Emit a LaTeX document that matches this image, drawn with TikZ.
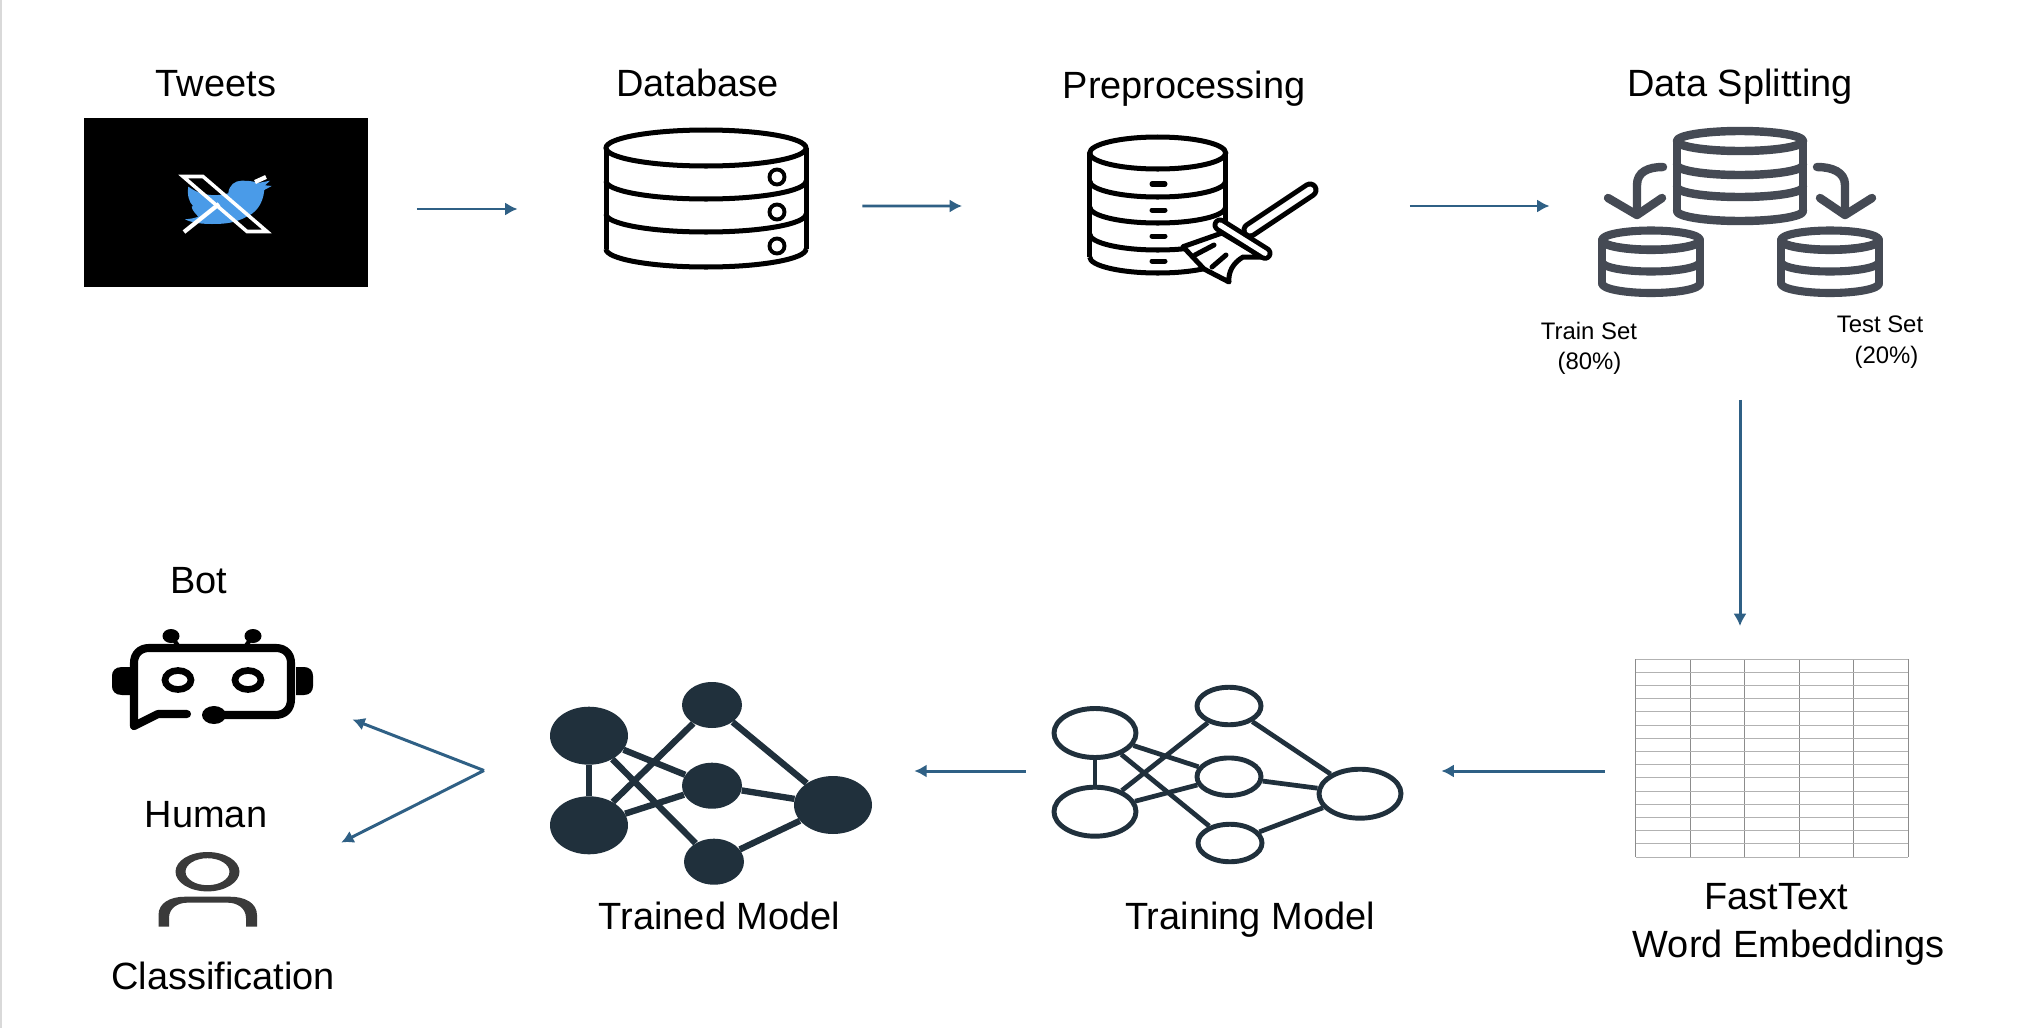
\documentclass[tikz,border=0pt]{standalone}
\usepackage{fontspec}
\setmainfont{Liberation Sans}
\usetikzlibrary{arrows.meta,shapes.geometric}
\definecolor{flowblue}{HTML}{2F6085}
\definecolor{netdark}{HTML}{20303C}
\definecolor{splitgrey}{HTML}{454A54}
\definecolor{birdblue}{HTML}{4A9BE8}
\definecolor{humangrey}{HTML}{3A3A3A}
\tikzset{
  biglabel/.style={anchor=base,font=\fontsize{21.6}{26}\selectfont},
  smalllabel/.style={anchor=base,font=\fontsize{13.6}{16}\selectfont},
  iconbox/.style={inner sep=0pt,outer sep=0pt},
  flow/.style={draw=flowblue,line width=1.7pt,-{Latex[length=7pt,width=7.5pt]}},
  solidnode/.style={ellipse,fill=netdark,inner sep=0pt},
  bignode/.style={minimum width=1.56cm,minimum height=1.16cm},
  smallnode/.style={minimum width=1.2cm,minimum height=.92cm},
  ringnode/.style={ellipse,draw=netdark,fill=white,line width=2.8pt,inner sep=0pt},
  bigring/.style={minimum width=1.64cm,minimum height=.98cm},
  smallring/.style={minimum width=1.28cm,minimum height=.75cm},
  solidedge/.style={draw=netdark,line width=3.6pt},
  ringedge/.style={draw=netdark,line width=2.7pt},
  dbline/.style={line width=2.85pt,black},
  splitline/.style={draw=splitgrey,line cap=round,line join=round}
}
\begin{document}
\begin{tikzpicture}[x=.02cm,y=-.02cm]
  \useasboundingbox (0,0) rectangle (2036,1028);
  \fill [white] (0,0) rectangle (2036,1028);
  \fill [black!15] (0,0) rectangle (2,1028);

  \node (tweetsbox) [iconbox,fill=black,minimum width=5.68cm,minimum height=3.38cm] at (226,202.5) {};
  \node (dbicon) [iconbox,minimum width=4.1cm,minimum height=2.82cm] at (706,199.5) {};
  \node (cleanicon) [iconbox,minimum width=4.64cm,minimum height=3.02cm] at (1203,209.5) {};
  \node (spliticon) [iconbox,minimum width=5.7cm,minimum height=3.4cm] at (1741,212) {};
  \node (gridtable) [iconbox,minimum width=5.45cm,minimum height=3.96cm] at (1772,758) {};
  \node (boticon) [iconbox,minimum width=4.02cm,minimum height=1.98cm] at (212.5,679) {};
  \node (humanicon) [iconbox,minimum width=1.97cm,minimum height=1.5cm] at (208,889) {};

  \node [biglabel] at (216,96) {Tweets};
  \node [biglabel] at (697.5,96) {Database};
  \node [biglabel] at (1184,98) {Preprocessing};
  \node [biglabel] at (1740,96) {Data Splitting};
  \node [smalllabel] at (1589,339) {Train Set};
  \node [smalllabel] at (1589.5,369) {(80\%)};
  \node [smalllabel] at (1880,332) {Test Set};
  \node [smalllabel] at (1886.5,363) {(20\%)};
  \node [biglabel] at (199,593) {Bot};
  \node [biglabel] at (206,827) {Human};
  \node [biglabel] at (223,989) {Classification};
  \node [biglabel] at (719.5,929) {Trained Model};
  \node [biglabel] at (1250,929) {Training Model};
  \node [biglabel] at (1776,909) {FastText};
  \node [biglabel] at (1788.5,957) {Word Embeddings};

  \fill [birdblue] (228.3,193.3) .. controls (229,185) and (235,180.7) .. (241.7,180.7)
    .. controls (248,180.7) and (253,181) .. (258,183) -- (270,180.7) -- (265,185.3) -- (271.7,186) -- (264.3,190)
    .. controls (263,205) and (255,213) .. (246.7,216.7) .. controls (235,223) and (225,224) .. (212,224)
    .. controls (203,224) and (192,223) .. (185,219.3) .. controls (190,219) and (195,218) .. (198.3,216.7)
    .. controls (195,213) and (192,210) .. (191.7,206.7) -- (193,206)
    .. controls (189,202) and (187,195) .. (188.3,186.7) .. controls (197,193) and (210,198) .. cycle;
  \draw [white,line width=2pt,line join=miter] (183,176.5) -- (203,176.5) -- (267,231.5) -- (247,231.5) -- cycle;
  \draw [white,line width=2.4pt] (184,232) -- (219,204);
  \draw [white,line width=2.4pt] (255,182) -- (266,177);

  \draw [dbline] (706,148) ellipse [x radius=100,y radius=18];
  \draw [dbline] (606,148) -- (606,249);
  \draw [dbline] (806,148) -- (806,249);
  \foreach \y in {181,214,249}
    \draw [dbline] (606,\y) arc [start angle=180,end angle=0,x radius=100,y radius=18];
  \foreach \y in {177,212,246}
    \draw [dbline,line width=2.2pt] (777,\y) ellipse [x radius=7.5,y radius=7.5];

  \draw [dbline] (1157.7,153) ellipse [x radius=68,y radius=16];
  \draw [dbline] (1089.7,153) -- (1089.7,257);
  \draw [dbline] (1225.7,153) -- (1225.7,240);
  \foreach \y in {181,207,234,257}
    \draw [dbline] (1089.7,\y) arc [start angle=180,end angle=0,x radius=68,y radius=16];
  \foreach \y in {184,210,236,261}
    \draw [dbline,line cap=round] (1152,\y) -- (1165,\y);
  \draw [black,line width=9.7pt,line cap=round] (1250,230) -- (1310,190);
  \draw [white,line width=4pt,line cap=round] (1250,230) -- (1310,190);
  \draw [dbline,fill=white,line join=round] (1183,246.7) -- (1222,233) -- (1262,257) -- (1243,257)
    .. controls (1233,263) and (1228,272) .. (1229,282) -- (1204,269) -- cycle;
  \draw [dbline,line cap=round] (1195,255) -- (1214,245);
  \draw [dbline,line cap=round] (1212,267) -- (1226,255);
  \draw [black,line width=8.5pt,line cap=round] (1220,225) -- (1265,253.3);
  \draw [white,line width=3pt,line cap=round] (1220,225) -- (1265,253.3);

  \draw [splitline,line width=4.8pt] (1740,141) ellipse [x radius=63,y radius=10];
  \draw [splitline,line width=4.8pt] (1677,141) -- (1677,211);
  \draw [splitline,line width=4.8pt] (1803,141) -- (1803,211);
  \foreach \y in {165,187,211}
    \draw [splitline,line width=4.8pt] (1677,\y) arc [start angle=180,end angle=0,x radius=63,y radius=10];
  \foreach \c in {1651,1830} {
    \draw [splitline,line width=4.6pt] (\c,240) ellipse [x radius=49,y radius=9.5];
    \draw [splitline,line width=4.6pt] (\c-49,240) -- (\c-49,283.5);
    \draw [splitline,line width=4.6pt] (\c+49,240) -- (\c+49,283.5);
    \foreach \y in {240.5,262,283.5}
      \draw [splitline,line width=4.6pt] (\c-49,\y) arc [start angle=180,end angle=0,x radius=49,y radius=9.5];
  }
  \draw [splitline,line width=4.8pt] (1663,167) .. controls (1648,167) and (1637,172) .. (1637,185) -- (1637,213);
  \draw [splitline,line width=4.8pt] (1608,198) -- (1637,215) -- (1662,198);
  \draw [splitline,line width=4.8pt] (1817,167) .. controls (1832,167) and (1845,172) .. (1845,185) -- (1845,213);
  \draw [splitline,line width=4.8pt] (1820,198) -- (1845,215) -- (1872,198);

  \foreach \x in {0,...,5}
    \draw [black!45,line width=.5pt] (1635.5+\x*54.5,659) -- (1635.5+\x*54.5,857);
  \foreach \r in {0,...,15}
    \draw [black!30,line width=.5pt] (1635.5,659+\r*13.2) -- (1908,659+\r*13.2);

  \node (traina) [ringnode,bigring] at (1095,733) {};
  \node (trainb) [ringnode,bigring] at (1095,811.7) {};
  \node (trainc) [ringnode,smallring] at (1229,706) {};
  \node (traind) [ringnode,smallring] at (1229,776.7) {};
  \node (traine) [ringnode,smallring] at (1230,843) {};
  \node (trainf) [ringnode,bigring] at (1360,793.7) {};
  \draw [ringedge] (traina) -- (trainb);
  \draw [ringedge] (traina) -- (traind);
  \draw [ringedge] (traina) -- (traine);
  \draw [ringedge] (trainb) -- (trainc);
  \draw [ringedge] (trainb) -- (traind);
  \draw [ringedge] (trainc) -- (trainf);
  \draw [ringedge] (traind) -- (trainf);
  \draw [ringedge] (traine) -- (trainf);

  \node (fixeda) [solidnode,bignode] at (589,735.7) {};
  \node (fixedb) [solidnode,bignode] at (589,825.3) {};
  \node (fixedc) [solidnode,smallnode] at (712,705) {};
  \node (fixedd) [solidnode,smallnode] at (712,785.7) {};
  \node (fixede) [solidnode,smallnode] at (714,861.7) {};
  \node (fixedf) [solidnode,bignode] at (833,805) {};
  \draw [solidedge] (fixeda) -- (fixedb);
  \draw [solidedge] (fixeda) -- (fixedd);
  \draw [solidedge] (fixeda) -- (fixede);
  \draw [solidedge] (fixedb) -- (fixedc);
  \draw [solidedge] (fixedb) -- (fixedd);
  \draw [solidedge] (fixedc) -- (fixedf);
  \draw [solidedge] (fixedd) -- (fixedf);
  \draw [solidedge] (fixede) -- (fixedf);

  \draw [black,line width=4.6pt,line cap=round,line join=round] (134,726) -- (134,663)
    .. controls (134,654) and (140,648) .. (149,648) -- (276,648)
    .. controls (285,648) and (291,654) .. (291,663) -- (291,699)
    .. controls (291,709) and (285,715) .. (275,715) -- (218,715);
  \draw [black,line width=4.6pt,line cap=round,line join=round] (134,726) -- (158,714) -- (187,714);
  \fill [black] (214,715) ellipse [x radius=12,y radius=9];
  \fill [black] (130,667) -- (122,667) .. controls (115,667) and (112,671) .. (112,676) -- (112,686)
    .. controls (112,691) and (115,695) .. (122,695) -- (130,695) -- cycle;
  \fill [black] (296,667) -- (304,667) .. controls (310,667) and (313,671) .. (313,676) -- (313,686)
    .. controls (313,691) and (310,695) .. (304,695) -- (296,695) -- cycle;
  \draw [black,line width=3.8pt] (178,680) ellipse [x radius=13,y radius=9.5];
  \draw [black,line width=3.8pt] (248,680) ellipse [x radius=13,y radius=9.5];
  \fill [black] (171,636) ellipse [x radius=8.5,y radius=7];
  \fill [black] (253,636) ellipse [x radius=8.5,y radius=7];
  \draw [black,line width=2.4pt] (171,636) -- (179,647);
  \draw [black,line width=2.4pt] (253,636) -- (245,647);

  \fill [humangrey,even odd rule] (207.5,871.7) ellipse [x radius=32,y radius=19.7]
    (207.5,871.7) ellipse [x radius=22,y radius=13.5];
  \fill [humangrey] (158.5,926.7) -- (158.5,915) .. controls (158.5,903) and (170,896.7) .. (185,896.7)
    -- (230,896.7) .. controls (245,896.7) and (257,903) .. (257,915) -- (257,926.7) -- (246,926.7) -- (246,918)
    .. controls (246,908) and (237,902.7) .. (228,902.7) -- (187,902.7)
    .. controls (178,902.7) and (169,908) .. (169,918) -- (169,926.7) -- cycle;

  \draw [flow] ([shift={(49,6.5)}]tweetsbox.east) -- ([shift={(-86,9.5)}]dbicon.west);
  \draw [flow] ([shift={(54,6.5)}]dbicon.east) -- ([shift={(-125,-3.5)}]cleanicon.west);
  \draw [flow] ([shift={(91,-3.5)}]cleanicon.east) -- ([shift={(-49,-6)}]spliticon.west);
  \draw [flow] ([shift={(-1,103)}]spliticon.south) -- ([shift={(-32,-33)}]gridtable.north);
  \draw [flow] ([shift={(-31,13)}]gridtable.west) -- ([shift={(38,-22.7)}]trainf.east);
  \draw [flow] ([shift={(-26,38)}]traina.west) -- ([shift={(42,-34)}]fixedf.east);
  \coordinate (fork) at (484,770.5);
  \draw [flow] (fork) -- ([shift={(39.5,-9)}]boticon.south east);
  \draw [flow] (fork) -- ([shift={(84,-9)}]humanicon.north east);
\end{tikzpicture}
\end{document}
